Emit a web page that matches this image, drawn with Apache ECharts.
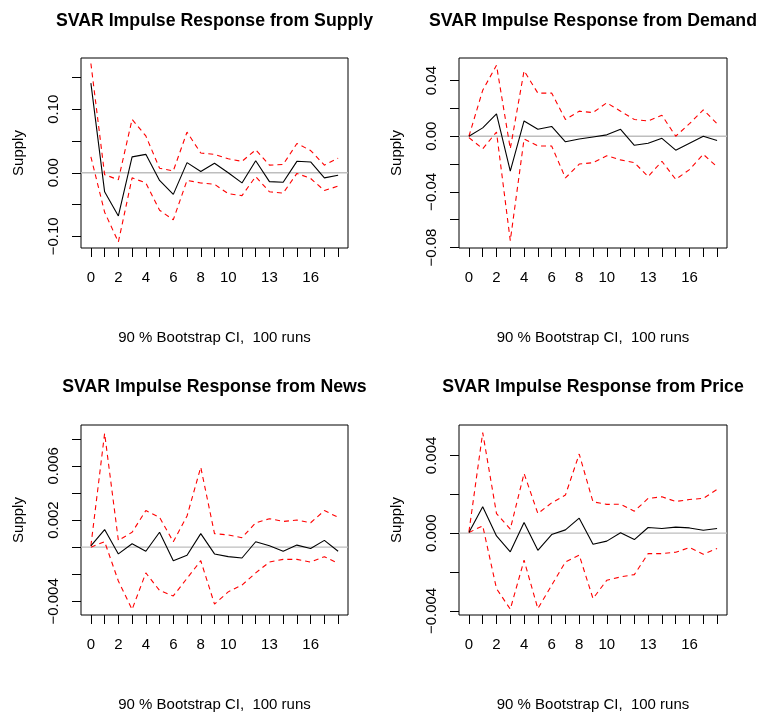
<!DOCTYPE html>
<html>
<head>
<meta charset="utf-8">
<script src="https://cdn.jsdelivr.net/npm/echarts@6/dist/echarts.min.js"></script>
<style>
html,body{margin:0;padding:0;background:#fff;}
#chart{width:763px;height:713px;}
</style>
</head>
<body>
<div id="chart"></div>
<script>
// Horizon steps
const steps = [0,1,2,3,4,5,6,7,8,9,10,11,12,13,14,15,16,17,18];
const xTickLabels = [0,2,4,6,8,10,13,16];
const titles = [
  "SVAR Impulse Response from Supply",
  "SVAR Impulse Response from Demand",
  "SVAR Impulse Response from News",
  "SVAR Impulse Response from Price"
];
const xName = "90 % Bootstrap CI,  100 runs";
const yName = "Supply";

// Supply shock
const supplyIrf   = [0.141,-0.030,-0.068,0.025,0.029,-0.012,-0.034,0.016,0.002,0.015,0.000,-0.016,0.019,-0.014,-0.015,0.018,0.017,-0.008,-0.004];
const supplyUpper = [0.172,-0.003,-0.011,0.084,0.058,0.007,0.003,0.064,0.031,0.029,0.022,0.018,0.036,0.012,0.013,0.046,0.035,0.012,0.023];
const supplyLower = [0.025,-0.062,-0.109,-0.008,-0.016,-0.059,-0.074,-0.012,-0.016,-0.018,-0.033,-0.036,-0.006,-0.030,-0.032,-0.001,-0.009,-0.028,-0.021];
// Demand shock
const demandIrf   = [0.000,0.006,0.016,-0.025,0.011,0.005,0.007,-0.004,-0.002,-0.0005,0.001,0.005,-0.0065,-0.005,-0.0015,-0.010,-0.005,0.000,-0.003];
const demandUpper = [0.000,0.033,0.051,-0.009,0.047,0.031,0.031,0.012,0.018,0.017,0.024,0.018,0.012,0.011,0.015,0.000,0.009,0.019,0.009];
const demandLower = [-0.001,-0.009,0.003,-0.075,-0.002,-0.007,-0.007,-0.030,-0.020,-0.019,-0.014,-0.017,-0.019,-0.029,-0.018,-0.031,-0.024,-0.013,-0.022];
// News shock
const newsIrf   = [0.0001,0.0013,-0.0005,0.00025,-0.0003,0.0011,-0.0010,-0.0006,0.0010,-0.0005,-0.0007,-0.0008,0.0004,0.0001,-0.0003,0.00015,-0.0001,0.0005,-0.0003];
const newsUpper = [0.0001,0.0084,0.0005,0.0011,0.0027,0.0022,0.0004,0.0023,0.0059,0.0010,0.0009,0.0007,0.0018,0.0021,0.0019,0.0020,0.0018,0.0027,0.0022];
const newsLower = [0.0000,0.0004,-0.0025,-0.0046,-0.0019,-0.0032,-0.0036,-0.0023,-0.0010,-0.0042,-0.0033,-0.0028,-0.0019,-0.0011,-0.0009,-0.0009,-0.0011,-0.0007,-0.0012];
// Price shock
const priceIrf   = [0.00003,0.00136,-0.00014,-0.00096,0.00055,-0.00088,-0.00007,0.00017,0.00077,-0.00057,-0.00041,0.00002,-0.00033,0.00029,0.00024,0.00031,0.00027,0.00015,0.00024];
const priceUpper = [0.00007,0.00517,0.00101,0.00021,0.00307,0.00101,0.00156,0.00196,0.00407,0.00161,0.00148,0.00149,0.00113,0.00179,0.00187,0.00163,0.00173,0.00179,0.00225];
const priceLower = [0.00003,0.00038,-0.00285,-0.00391,-0.00139,-0.00388,-0.00268,-0.00148,-0.00113,-0.00336,-0.00242,-0.00225,-0.00213,-0.00105,-0.00105,-0.00098,-0.00074,-0.00108,-0.00079];

// Y axis ticks and labels per panel
const yTicks = [
  [-0.10,-0.05,0.00,0.05,0.10,0.15],
  [-0.08,-0.06,-0.04,-0.02,0.00,0.02,0.04],
  [-0.004,-0.002,0.000,0.002,0.004,0.006,0.008],
  [-0.004,-0.002,0.000,0.002,0.004]
];
const yLabels = [
  [-0.10,0.00,0.10],
  [-0.08,-0.04,0.00,0.04],
  [-0.004,0.002,0.006],
  [-0.004,0.000,0.004]
];
const yDigits = [2,2,3,3];
const yRanges = [[-0.1184,0.1806],[-0.0803,0.0562],[-0.005007,0.009015],[-0.004208,0.005563]];
const xRange = [-0.72, 18.72];

const panels = [
  [supplyIrf, supplyUpper, supplyLower],
  [demandIrf, demandUpper, demandLower],
  [newsIrf, newsUpper, newsLower],
  [priceIrf, priceUpper, priceLower]
];

const FONT = "Liberation Sans, Arial, Helvetica, sans-serif";
const gridPos = [
  {left:81, top:58, width:267, height:190},
  {left:459, top:58, width:268, height:190},
  {left:81, top:425, width:267, height:190},
  {left:459, top:425, width:268, height:190}
];

function fmt(v, d){
  const s = v.toFixed(d);
  return s.replace('-', '\u2212');
}

const grids = [], xAxes = [], yAxes = [], series = [], graphics = [];
for (let p = 0; p < 4; p++) {
  grids.push(Object.assign({show:true, borderColor:'#000', borderWidth:1, backgroundColor:'transparent'}, gridPos[p]));
  xAxes.push({
    type:'value', gridIndex:p, min:xRange[0], max:xRange[1], position:'bottom',
    name:xName, nameLocation:'middle', nameGap:82,
    nameTextStyle:{fontFamily:FONT, fontSize:15, color:'#000'},
    axisLine:{show:false, onZero:false},
    splitLine:{show:false},
    axisTick:{show:true, inside:false, length:9, customValues:steps, lineStyle:{color:'#000', width:1}},
    axisLabel:{show:true, margin:22, customValues:xTickLabels, fontFamily:FONT, fontSize:15, color:'#000'}
  });
  const d = yDigits[p];
  yAxes.push({
    type:'value', gridIndex:p, min:yRanges[p][0], max:yRanges[p][1], position:'left',
    name:yName, nameLocation:'middle', nameGap:55, nameRotate:90,
    nameTextStyle:{fontFamily:FONT, fontSize:15, color:'#000'},
    axisLine:{show:false, onZero:false},
    splitLine:{show:false},
    axisTick:{show:true, inside:false, length:9, customValues:yTicks[p], lineStyle:{color:'#000', width:1}},
    axisLabel:{show:true, rotate:90, margin:20, customValues:yLabels[p], fontFamily:FONT, fontSize:15, color:'#000',
      formatter:(v)=>fmt(v,d)}
  });
  const [irf, up, lo] = panels[p];
  series.push({type:'line', xAxisIndex:p, yAxisIndex:p, data:[[xRange[0],0],[xRange[1],0]],
    symbol:'none', silent:true, lineStyle:{color:'#bebebe', width:1.3}, z:1});
  series.push({type:'line', xAxisIndex:p, yAxisIndex:p, data:steps.map((s,i)=>[s, up[i]]),
    symbol:'none', lineStyle:{color:'#ff0000', width:1.1, type:[5,4]}, z:2});
  series.push({type:'line', xAxisIndex:p, yAxisIndex:p, data:steps.map((s,i)=>[s, lo[i]]),
    symbol:'none', lineStyle:{color:'#ff0000', width:1.1, type:[5,4]}, z:2});
  series.push({type:'line', xAxisIndex:p, yAxisIndex:p, data:steps.map((s,i)=>[s, irf[i]]),
    symbol:'none', lineStyle:{color:'#000', width:1.1}, z:3});
  const g = gridPos[p];
  graphics.push({type:'text', x:g.left + g.width/2, y:(p<2?21:387), style:{text:titles[p], font:'bold 17.7px ' + FONT, fill:'#000', textAlign:'center', textVerticalAlign:'middle'}});
}

const chart = echarts.init(document.getElementById('chart'), null, {renderer:'canvas'});
chart.setOption({
  backgroundColor:'#fff',
  animation:false,
  grid:grids, xAxis:xAxes, yAxis:yAxes, series:series, graphic:graphics
});
</script>
</body>
</html>
